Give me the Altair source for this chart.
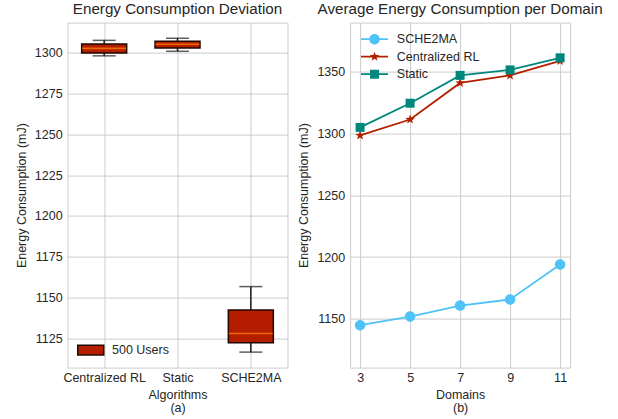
import math
import altair as alt
import pandas as pd

# ---------------- data ----------------
algorithms = ["Centralized RL", "Static", "SCHE2MA"]
whisker_low = [1298.2, 1301.0, 1116.4]
q1 = [1300.0, 1303.0, 1122.2]
median = [1302.8, 1305.3, 1127.8]
q3 = [1305.5, 1307.1, 1142.3]
whisker_high = [1307.7, 1309.0, 1156.6]
box_group = "500 Users"
box_ticks = [1125, 1150, 1175, 1200, 1225, 1250, 1275, 1300]

domains = [3, 5, 7, 9, 11]
series_names = ["SCHE2MA", "Centralized RL", "Static"]
sche2ma = [1144.9, 1151.9, 1160.8, 1165.7, 1194.0]
central_rl = [1298.4, 1311.3, 1340.9, 1347.0, 1358.7]
static = [1304.9, 1324.5, 1347.0, 1351.4, 1361.2]
line_ticks = [1150, 1200, 1250, 1300, 1350]

# ---------------- style ----------------
FONT = "Liberation Sans"
FS = 12.5
TFS = 15.2
text_color = "#262626"
grid_color = "#CCCCCC"
series_colors = ["#4FC3F7", "#B22000", "#00877D"]
box_color = "#B51D00"
box_edge = "#200800"
whisker_color = "#1A1A1A"
median_color = "#FF8C00"


def circle_path(r):
    return f"M{r},0A{r},{r} 0 1,1 {-r},0A{r},{r} 0 1,1 {r},0Z"


def square_path(h):
    return f"M{-h},{-h}H{h}V{h}H{-h}Z"


def star_path(R, r):
    pts = []
    for k in range(10):
        ang = math.radians(-90 + 36 * k)
        rad = R if k % 2 == 0 else r
        pts.append(f"{rad * math.cos(ang):.3f},{rad * math.sin(ang):.3f}")
    return "M" + "L".join(pts) + "Z"


def bar_path(hl, hw):
    return f"M{-hl},{-hw}H{hl}V{hw}H{-hl}Z"


marker_paths = [circle_path(1.05), star_path(1.0, 0.42), square_path(0.9)]
legend_paths = [bar_path(2.7, 0.17) + " " + p for p in marker_paths]


def panel_title(text):
    return alt.TitleParams(text, font=FONT, fontSize=TFS, fontWeight="normal",
                           color=text_color, frame="group", anchor="middle",
                           baseline="alphabetic", offset=-7)


# ---------------- left: box plot ----------------
box_df = pd.DataFrame({
    "algorithm": algorithms,
    "low": whisker_low,
    "q1": q1,
    "median": median,
    "q3": q3,
    "high": whisker_high,
    "group": [box_group] * len(algorithms),
})

x_box = alt.X(
    "algorithm:N",
    scale=alt.Scale(type="point", domain=algorithms, padding=0.5),
    axis=alt.Axis(title=["Algorithms", "(a)"], labelAngle=0, grid=True,
                  titleY=20.5, titleLineHeight=13.5, labelPadding=4),
)
y_box_scale = alt.Scale(domain=[1106.9, 1318.6], nice=False, zero=False)
y_box_axis = alt.Axis(values=box_ticks, format="d", title="Energy Consumption (mJ)",
                      titleX=-39.2, titleY=172.5, labelPadding=5.4)

base_box = alt.Chart(box_df)
whisk_lo = base_box.mark_rule(color=whisker_color, strokeWidth=1.5).encode(
    x=x_box, y=alt.Y("low:Q", scale=y_box_scale, axis=y_box_axis), y2="q1:Q")
whisk_hi = base_box.mark_rule(color=whisker_color, strokeWidth=1.5).encode(
    x=x_box, y=alt.Y("q3:Q", scale=y_box_scale), y2="high:Q")
cap_lo = base_box.mark_tick(color=whisker_color, thickness=1.5, size=23).encode(
    x=x_box, y=alt.Y("low:Q", scale=y_box_scale))
cap_hi = base_box.mark_tick(color=whisker_color, thickness=1.5, size=23).encode(
    x=x_box, y=alt.Y("high:Q", scale=y_box_scale))
boxes = base_box.mark_bar(size=45, stroke=box_edge, strokeWidth=1.5).encode(
    x=x_box,
    y=alt.Y("q1:Q", scale=y_box_scale),
    y2="q3:Q",
    fill=alt.Fill(
        "group:N",
        scale=alt.Scale(domain=[box_group], range=[box_color]),
        legend=alt.Legend(orient="none", legendX=17, legendY=321.2, title=None,
                          symbolType=bar_path(2.6, 0.97), symbolSize=100,
                          symbolStrokeColor=box_edge, symbolStrokeWidth=1.5,
                          labelOffset=15, padding=0, labelFont=FONT,
                          labelFontSize=FS, labelColor=text_color),
    ),
)
medians = base_box.mark_tick(color=median_color, thickness=1.6, size=44).encode(
    x=x_box, y=alt.Y("median:Q", scale=y_box_scale))

left = alt.layer(whisk_lo, whisk_hi, cap_lo, cap_hi, boxes, medians).properties(
    width=220, height=345, title=panel_title("Energy Consumption Deviation"))

# ---------------- right: line chart ----------------
line_df = pd.DataFrame({
    "domains": domains * 3,
    "energy": sche2ma + central_rl + static,
    "series": [s for s in series_names for _ in domains],
})

x_line = alt.X("domains:Q", scale=alt.Scale(domain=[2.6, 11.4], nice=False, zero=False),
               axis=alt.Axis(values=domains, title=["Domains", "(b)"], grid=True,
                             titleY=20.5, titleLineHeight=13.5, labelPadding=4))
y_line_scale = alt.Scale(domain=[1110.6, 1389.7], nice=False, zero=False)
y_line = alt.Y("energy:Q", scale=y_line_scale,
               axis=alt.Axis(values=line_ticks, format="d", title="Energy Consumption (mJ)",
                             titleX=-40, titleY=172.5, labelPadding=5.4))

leg_props = dict(orient="none", legendX=18.2, legendY=10.3, title=None, labelFont=FONT,
                 labelFontSize=FS, labelColor=text_color, symbolSize=100, rowPadding=4.5,
                 labelOffset=16, symbolStrokeWidth=0, padding=0)

# legend carrier (draws nothing; only provides the legend)
legend_layer = alt.Chart(line_df).mark_point(filled=True, size=100, opacity=1).encode(
    x=x_line, y=y_line,
    color=alt.Color("series:N", scale=alt.Scale(domain=series_names, range=series_colors),
                    legend=alt.Legend(**leg_props)),
    shape=alt.Shape("series:N", scale=alt.Scale(domain=series_names, range=legend_paths),
                    legend=alt.Legend(**leg_props)),
).transform_filter("false")

layers = [legend_layer]
for name, path, col in zip(series_names, marker_paths, series_colors):
    sub = alt.Chart(line_df).transform_filter(alt.datum.series == name)
    layers.append(sub.mark_line(strokeWidth=1.8, color=col).encode(x=x_line, y=y_line))
    layers.append(sub.mark_point(shape=path, filled=True, size=100, opacity=1, color=col)
                  .encode(x=x_line, y=y_line))

right = alt.layer(*layers).properties(
    width=220, height=345, title=panel_title("Average Energy Consumption per Domain"))

chart = (
    alt.hconcat(left, right, spacing=62.6, bounds="flush")
    .resolve_scale(fill="independent", color="independent", shape="independent")
    .properties(padding={"left": 14.5, "top": 1.6, "right": 5, "bottom": 5},
                background="white")
    .configure_view(stroke=grid_color, strokeWidth=1)
    .configure_axis(labelFont=FONT, labelFontSize=FS, labelColor=text_color,
                    titleFont=FONT, titleFontSize=FS, titleFontWeight="normal",
                    titleColor=text_color, gridColor=grid_color, gridWidth=1,
                    domain=False, ticks=False, tickSize=0)
)

chart.save("out.html", embed_options={"renderer": "svg", "actions": False})
